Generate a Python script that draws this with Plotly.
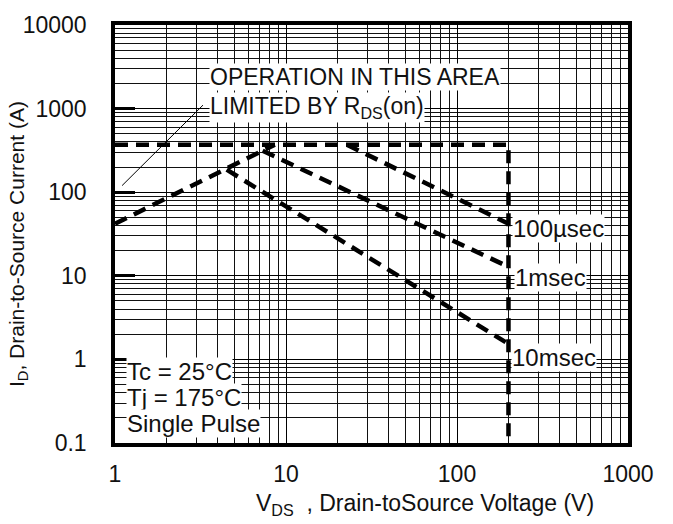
import math
import plotly.graph_objects as go

# ---- data ----
v_limit = [1, 200, 200]
i_limit = [370, 370, 0.1]

v_rds = [1, 8.6]
i_rds = [42, 370]

v_100us = [22.7, 200]
i_100us = [370, 42]

v_1ms = [7.3, 200]
i_1ms = [313, 12.8]

v_10ms = [4.5, 200]
i_10ms = [186, 1.53]

v_leader = [1.1, 3.27]
i_leader = [120, 1100]

x_ticks = [1, 10, 100, 1000]
x_ticktext = ["1", "10", "100", "1000"]
y_ticks = [0.1, 1, 10, 100, 1000, 10000]
y_ticktext = ["0.1", "1", "10", "100", "1000", "10000"]

FONT = "Liberation Sans, Arial, sans-serif"

def minor_vals(lo_exp, hi_exp):
    vals = []
    for e in range(lo_exp, hi_exp):
        for m in range(2, 10):
            vals.append(m * 10 ** e)
    return vals

fig = go.Figure()
dash_style = dict(color="black", width=4.5, dash="13px,8px")
for vx, iy in [(v_limit, i_limit), (v_rds, i_rds), (v_100us, i_100us),
               (v_1ms, i_1ms), (v_10ms, i_10ms)]:
    fig.add_trace(go.Scatter(x=vx, y=iy, mode="lines", line=dash_style,
                             showlegend=False, hoverinfo="skip"))
fig.add_trace(go.Scatter(x=v_leader, y=i_leader, mode="lines",
                         line=dict(color="black", width=1),
                         showlegend=False, hoverinfo="skip"))

fig.update_layout(
    width=673, height=524,
    margin=dict(l=115, r=45, t=21, b=81),
    paper_bgcolor="white", plot_bgcolor="white",
    font=dict(family=FONT, size=22, color="#111"),
    showlegend=False,
)
fig.update_xaxes(
    type="log", range=[0, 3],
    tickvals=x_ticks, ticktext=x_ticktext,
    tickfont=dict(size=23),
    showgrid=True, gridcolor="black", gridwidth=1.4,
    minor=dict(tickvals=minor_vals(0, 3), showgrid=True, gridcolor="#111", gridwidth=1.1),
    showline=True, linecolor="black", linewidth=3.5, mirror=True,
    ticks="", ticklabelstandoff=8, zeroline=False,
)
fig.update_yaxes(
    type="log", range=[-1, 4],
    tickvals=y_ticks, ticktext=y_ticktext,
    tickfont=dict(size=23),
    showgrid=True, gridcolor="black", gridwidth=1.4,
    minor=dict(tickvals=minor_vals(-1, 4), showgrid=True, gridcolor="#111", gridwidth=1.1),
    showline=True, linecolor="black", linewidth=3.5, mirror=True,
    ticks="inside", ticklen=20, tickwidth=2.5, tickcolor="black",
    ticklabelstandoff=20, zeroline=False,
)

def ann(text, x, y, size=23, xanchor="left", bg="white", **kw):
    fig.add_annotation(text=text, x=x, y=y, xref="paper", yref="paper",
                       xanchor=xanchor, yanchor="middle", showarrow=False,
                       bgcolor=bg, borderpad=0,
                       font=dict(family=FONT, size=size, color="#111"), **kw)

ann("OPERATION IN THIS AREA", 0.183, 0.876, size=23)
ann("LIMITED BY R<sub>DS</sub>(on)", 0.183, 0.803, size=23)
ann("100µsec", 0.774, 0.512, size=24)
ann("1msec", 0.778, 0.396, size=24)
ann("10msec", 0.772, 0.204, size=24)
ann("Tc = 25°C", 0.022, 0.171, size=24)
ann("Tj = 175°C", 0.022, 0.109, size=24)
ann("Single Pulse", 0.022, 0.047, size=24)

# axis titles
ann("V<sub>DS</sub>  , Drain-toSource Voltage (V)", 0.604, -0.147, size=23,
    xanchor="center", bg="rgba(0,0,0,0)")
ann("I<sub>D</sub>, Drain-to-Source Current (A)", -0.189, 0.476, size=21,
    xanchor="center", bg="rgba(0,0,0,0)", textangle=-90)

fig.write_html("out.html")
